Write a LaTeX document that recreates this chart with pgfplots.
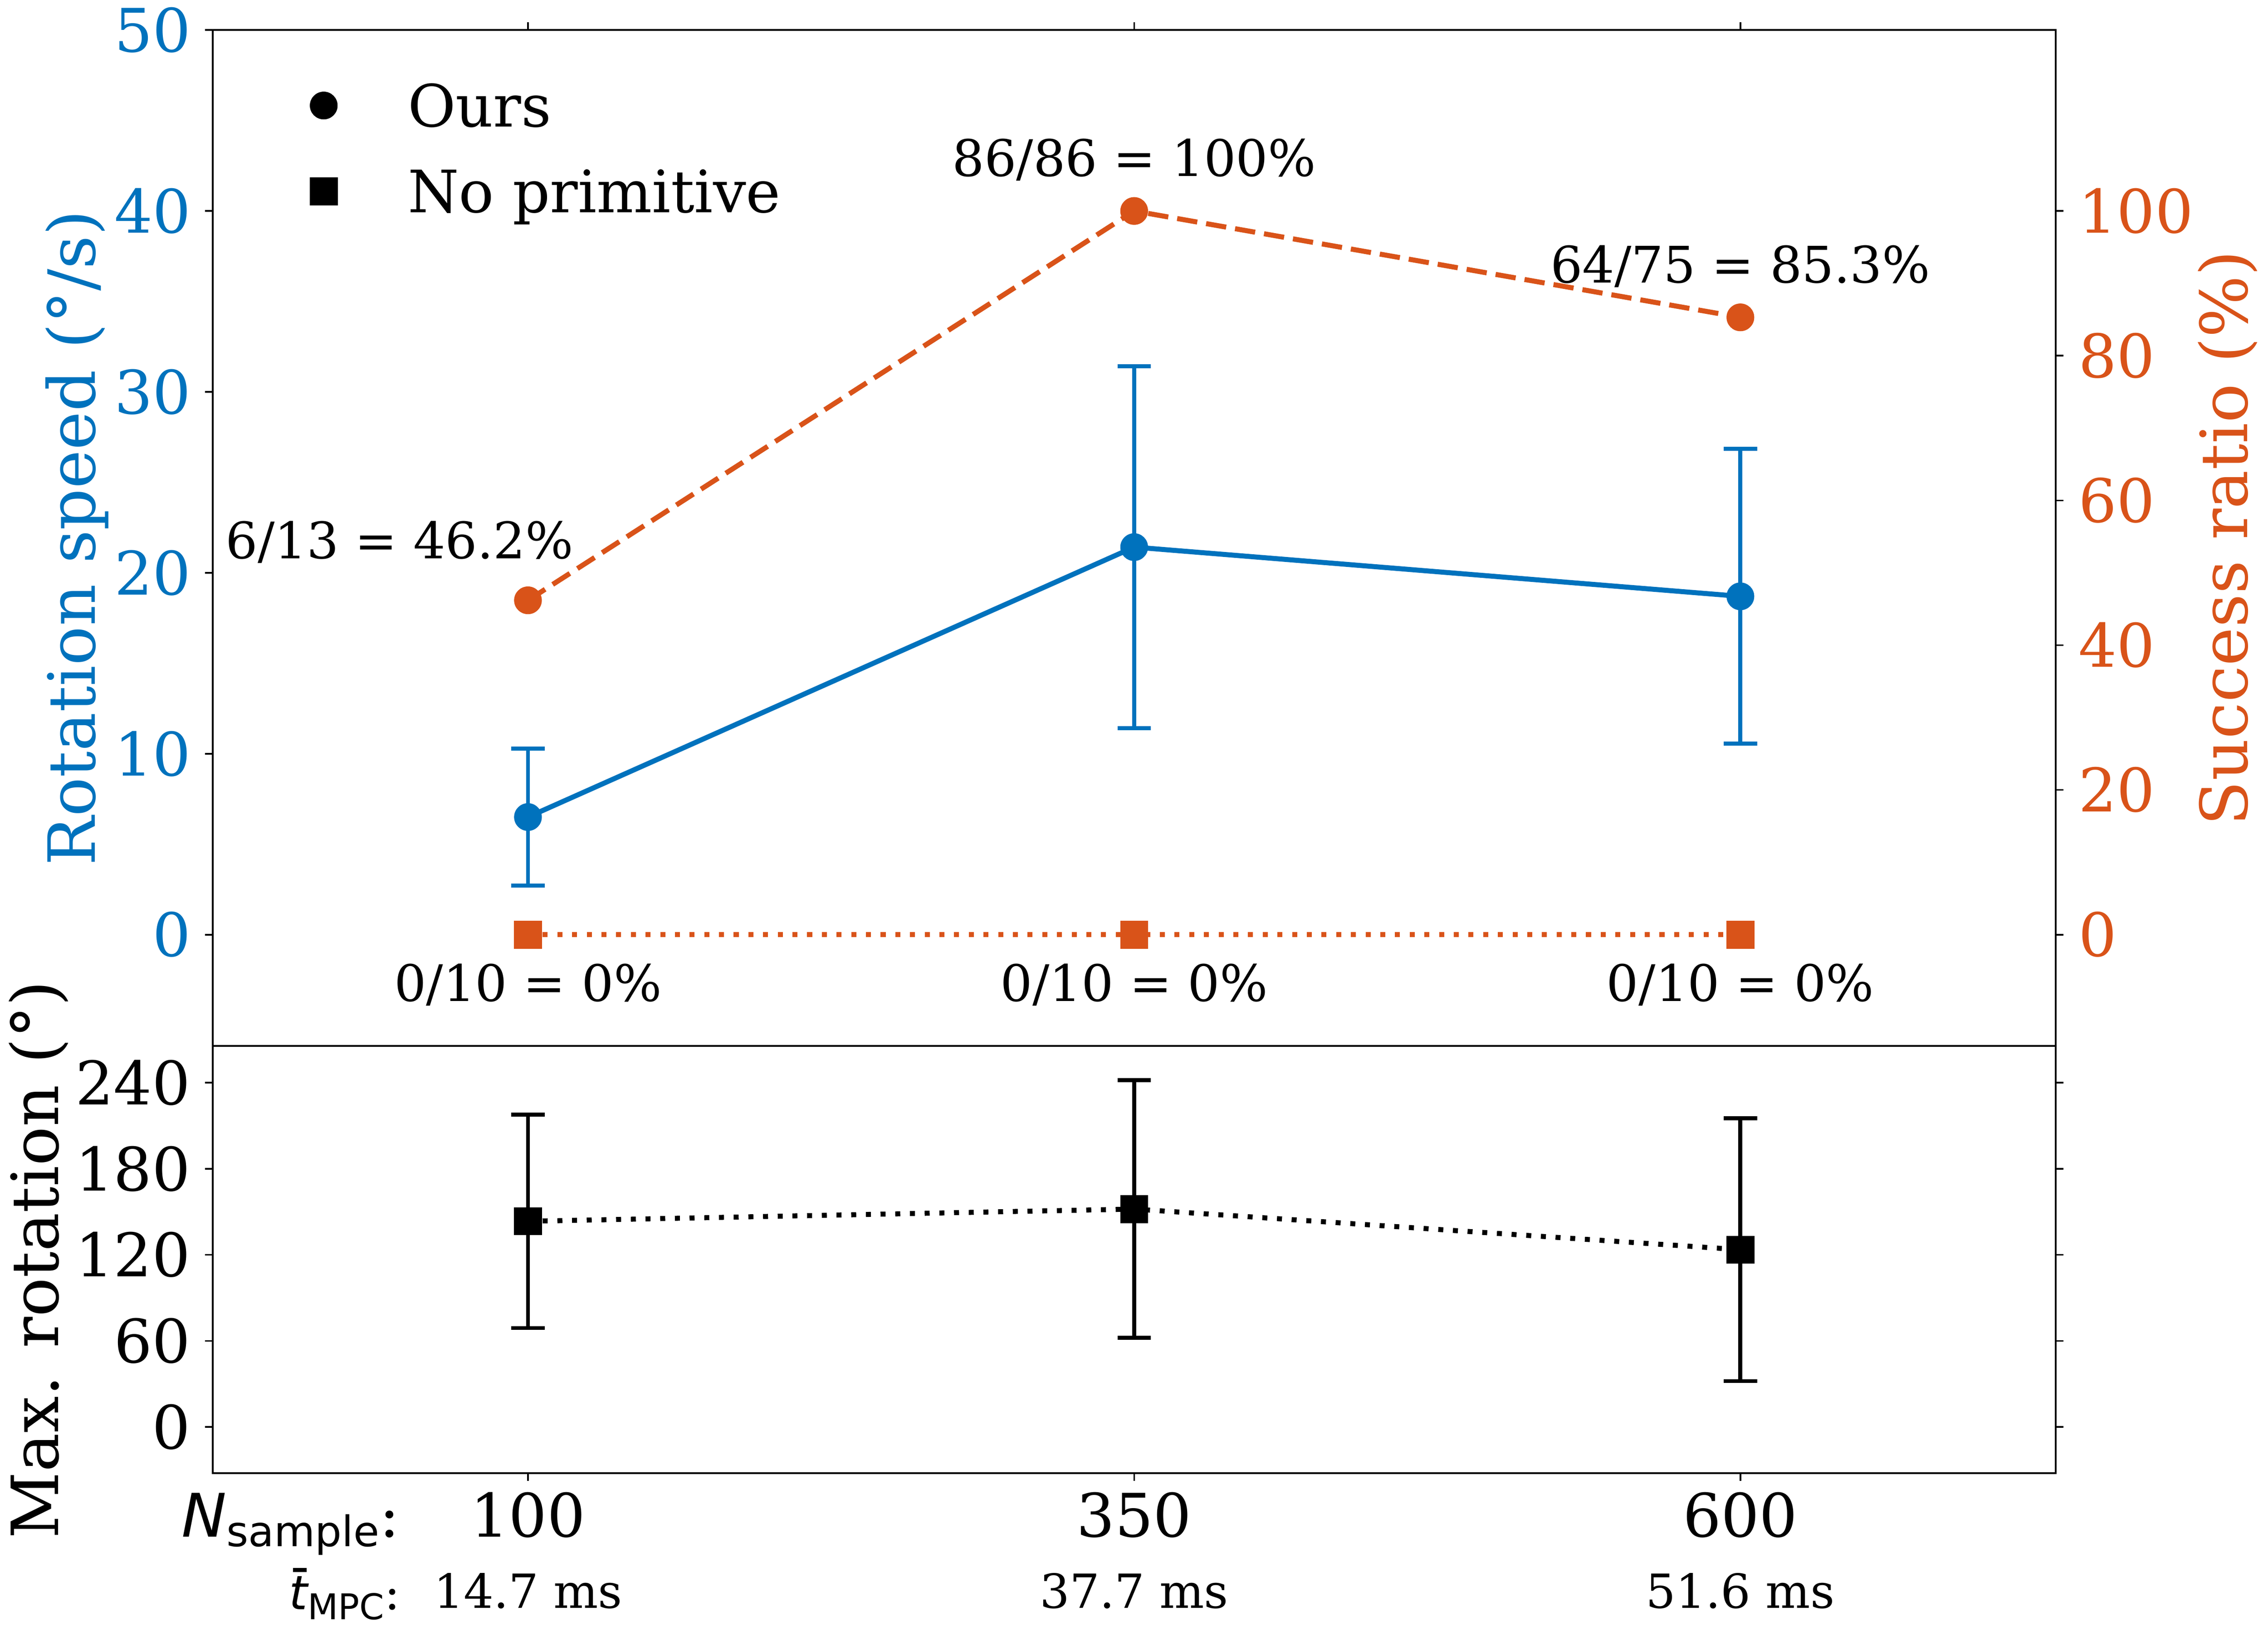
\documentclass[border=0pt]{standalone}
\usepackage{fontspec}
\setmainfont{DejaVu Serif}
\newfontfamily\dvs{DejaVu Sans}
\usepackage{pgfplots}
\pgfplotsset{compat=1.18}
\definecolor{mblue}{RGB}{0,114,189}
\definecolor{morange}{RGB}{217,83,25}
\newcommand{\fbig}{\fontsize{18}{21.6}\selectfont}
\newcommand{\fleg}{\fontsize{17.5}{21}\selectfont}
\newcommand{\fmid}{\fontsize{15.1}{18}\selectfont}
\newcommand{\fsm}{\fontsize{14.1}{17}\selectfont}
\newcommand{\flab}{\fontsize{19.5}{23}\selectfont}
\pgfplotsset{
  common/.style={
    scale only axis, width=551.8pt, xmin=-30, xmax=730,
    tick align=outside, major tick length=2.3pt,
    every tick/.style={black, line width=0.5pt},
    axis line style={line width=0.55pt},
    tick label style={font=\fbig},
    /pgf/number format/assume math mode=true,
    clip=false,
  },
}
\begin{document}
\begin{tikzpicture}
\useasboundingbox (-63.7pt,-47.2pt) rectangle (615.4pt,441.2pt);
% ---------- bottom axis ----------
\begin{axis}[common, at={(0pt,0pt)}, anchor=south west, height=128pt,
  ymin=-32.3, ymax=265.6,
  xtick={100,350,600}, xticklabels={,,}, xtick pos=left,
  ytick={0,60,120,180,240}, ytick pos=both, yticklabel pos=left,
  yticklabel style={inner sep=0pt}, yticklabel shift=4.2pt]
\addplot[black, line width=1.5pt, dash pattern=on 1.5pt off 2.9pt,
  mark=square*, mark size=4.1pt, mark options={solid, line width=0.1pt},
  error bars/.cd, y dir=both, y explicit, error mark=|,
  error bar style={line width=1.2pt, solid},
  error mark options={line width=1.2pt, mark size=5pt, solid}]
  coordinates {(100,143.4) +- (0,74.4) (350,151.9) +- (0,89.8) (600,123.6) +- (0,91.6)};
\node[anchor=base, font=\fbig, yshift=-32.9pt] at (axis cs:100,0) {100};
\node[anchor=base, font=\fbig, yshift=-32.9pt] at (axis cs:350,0) {350};
\node[anchor=base, font=\fbig, yshift=-32.9pt] at (axis cs:600,0) {600};
\node[anchor=base, font=\fsm, yshift=-54.2pt] at (axis cs:100,0) {14.7 ms};
\node[anchor=base, font=\fsm, yshift=-54.2pt] at (axis cs:350,0) {37.7 ms};
\node[anchor=base, font=\fsm, yshift=-54.2pt] at (axis cs:600,0) {51.6 ms};
\node[anchor=base east, inner sep=0pt, font=\fbig, yshift=-32.9pt] at (axis cs:47.4,0)
  {{\dvs\itshape N}\raisebox{-2.9pt}{\dvs\fontsize{12.6}{14}\selectfont sample}:};
\node[anchor=base east, inner sep=0pt, font=\fsm, yshift=-54.6pt] at (axis cs:47.6,0)
  {\makebox[0pt][l]{\kern1.1pt\rule[11.2pt]{4.1pt}{1.15pt}}{\dvs\itshape t}\raisebox{-3.0pt}{\dvs\fontsize{10.6}{12}\selectfont MPC}:};
\end{axis}
% ---------- top axis, left scale ----------
\begin{axis}[common, at={(0pt,128pt)}, anchor=south west, height=304.2pt,
  ymin=-6.15, ymax=50,
  xtick={100,350,600}, xticklabels={,,}, xtick pos=right,
  ytick={0,10,20,30,40,50}, ytick pos=left, yticklabel pos=left,
  yticklabel style={inner sep=0pt, text=mblue}, yticklabel shift=4.0pt]
\addplot[mblue, line width=1.5pt, mark=*, mark size=4.1pt, mark options={solid, line width=0.1pt},
  error bars/.cd, y dir=both, y explicit, error mark=|,
  error bar style={line width=1.2pt, solid, mblue},
  error mark options={line width=1.2pt, mark size=5pt, solid, mblue}]
  coordinates {(100,6.5) +- (0,3.79) (350,21.42) +- (0,10.0) (600,18.7) +- (0,8.15)};
\end{axis}
% ---------- top axis, right scale ----------
\begin{axis}[common, at={(0pt,128pt)}, anchor=south west, height=304.2pt,
  ymin=-15.375, ymax=125,
  xtick=\empty,
  ytick={0,20,40,60,80,100}, ytick pos=right, yticklabel pos=right,
  yticklabel style={inner sep=0pt, text=morange}, yticklabel shift=4.4pt,
  legend style={draw=none, fill=none, at={(axis description cs:0.0528,0.9477)}, anchor=north west,
    inner sep=0pt, outer sep=0pt, row sep=11.3pt, column sep=21.1pt,
    nodes={inner sep=0pt, anchor=base west, font=\fleg}}]
\addplot[morange, line width=1.5pt, dash pattern=on 6.1pt off 2.7pt,
  mark=*, mark size=4.1pt, mark options={solid, line width=0.1pt}, forget plot]
  coordinates {(100,46.2) (350,100) (600,85.3)};
\addplot[morange, line width=1.5pt, dash pattern=on 1.5pt off 2.9pt,
  mark=square*, mark size=4.1pt, mark options={solid, line width=0.1pt}, forget plot]
  coordinates {(100,0) (350,0) (600,0)};
\addlegendimage{legend image code/.code={\draw[black, fill=black, mark=*, mark size=4.1pt, line width=0.1pt] plot coordinates {(0pt,6.3pt)};}}
\addlegendentry{Ours}
\addlegendimage{legend image code/.code={\draw[black, fill=black, mark=square*, mark size=4.1pt, line width=0.1pt] plot coordinates {(0pt,6.3pt)};}}
\addlegendentry{No primitive}
\node[anchor=base, font=\fmid, yshift=10.4pt] at (axis cs:350,100) {86/86 = 100\%};
\node[anchor=base, font=\fmid, yshift=10.4pt] at (axis cs:600,85.3) {64/75 = 85.3\%};
\node[anchor=base, font=\fmid, yshift=12.5pt] at (axis cs:47.1,46.2) {6/13 = 46.2\%};
\node[anchor=base, font=\fmid, yshift=-20pt] at (axis cs:100,0) {0/10 = 0\%};
\node[anchor=base, font=\fmid, yshift=-20pt] at (axis cs:350,0) {0/10 = 0\%};
\node[anchor=base, font=\fmid, yshift=-20pt] at (axis cs:600,0) {0/10 = 0\%};
\end{axis}
% ---------- axis titles ----------
\node[rotate=90, anchor=base, inner sep=0pt, text=mblue, font=\flab] at (-35.3pt,280.1pt) {Rotation speed (°/s)};
\node[rotate=90, anchor=base, inner sep=0pt, text=morange, font=\flab] at (609.2pt,280.1pt) {Success ratio (\%)};
\node[rotate=90, anchor=base, inner sep=0pt, font=\flab] at (-46.2pt,64pt) {Max. rotation (°)};
\end{tikzpicture}
\end{document}
